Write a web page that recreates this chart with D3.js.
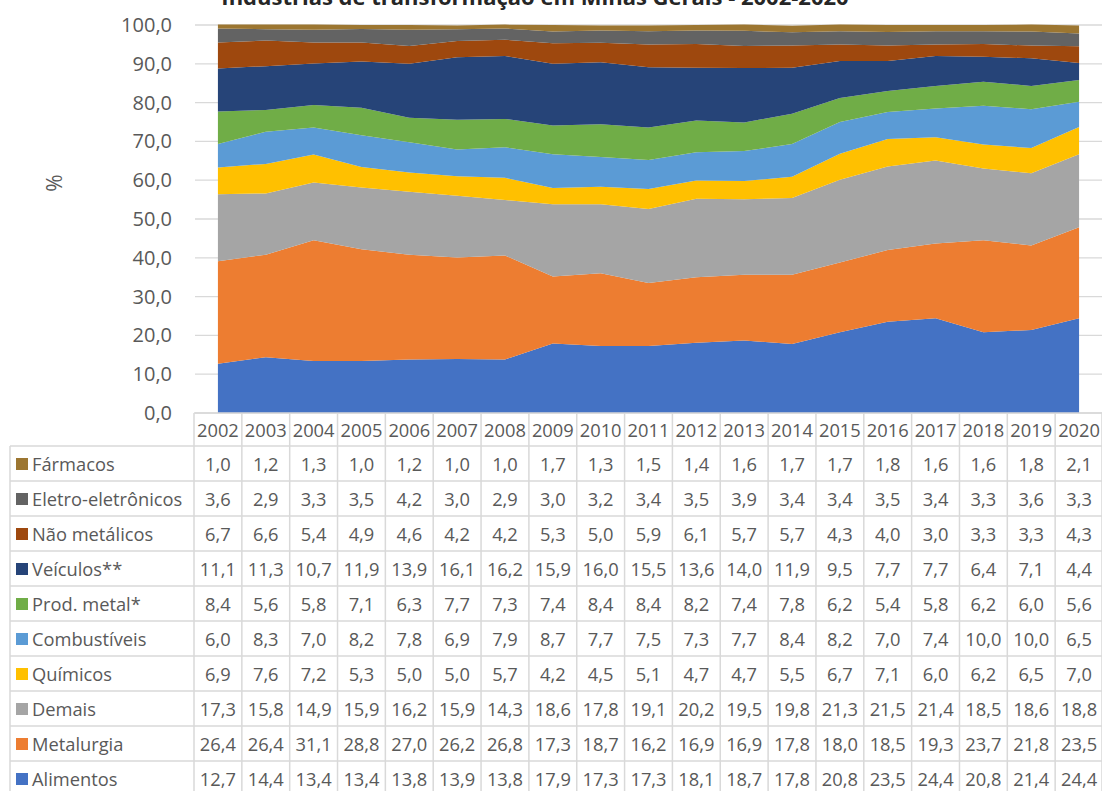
<!DOCTYPE html>
<html>
<head>
<meta charset="utf-8">
<script src="https://cdn.jsdelivr.net/npm/d3@7"></script>
<style>
  html, body { margin: 0; padding: 0; background: #fff; }
  svg { display: block; font-family: "Open Sans", "Noto Sans", sans-serif; }
</style>
</head>
<body>
<svg id="chart" width="1102" height="791"></svg>
<script>
// Participação (%) dos segmentos na indústria de transformação de Minas Gerais
const years = ["2002","2003","2004","2005","2006","2007","2008","2009","2010","2011","2012","2013","2014","2015","2016","2017","2018","2019","2020"];

const alimentos     = [12.7,14.4,13.4,13.4,13.8,13.9,13.8,17.9,17.3,17.3,18.1,18.7,17.8,20.8,23.5,24.4,20.8,21.4,24.4];
const metalurgia    = [26.4,26.4,31.1,28.8,27.0,26.2,26.8,17.3,18.7,16.2,16.9,16.9,17.8,18.0,18.5,19.3,23.7,21.8,23.5];
const demais        = [17.3,15.8,14.9,15.9,16.2,15.9,14.3,18.6,17.8,19.1,20.2,19.5,19.8,21.3,21.5,21.4,18.5,18.6,18.8];
const quimicos      = [6.9,7.6,7.2,5.3,5.0,5.0,5.7,4.2,4.5,5.1,4.7,4.7,5.5,6.7,7.1,6.0,6.2,6.5,7.0];
const combustiveis  = [6.0,8.3,7.0,8.2,7.8,6.9,7.9,8.7,7.7,7.5,7.3,7.7,8.4,8.2,7.0,7.4,10.0,10.0,6.5];
const prodMetal     = [8.4,5.6,5.8,7.1,6.3,7.7,7.3,7.4,8.4,8.4,8.2,7.4,7.8,6.2,5.4,5.8,6.2,6.0,5.6];
const veiculos      = [11.1,11.3,10.7,11.9,13.9,16.1,16.2,15.9,16.0,15.5,13.6,14.0,11.9,9.5,7.7,7.7,6.4,7.1,4.4];
const naoMetalicos  = [6.7,6.6,5.4,4.9,4.6,4.2,4.2,5.3,5.0,5.9,6.1,5.7,5.7,4.3,4.0,3.0,3.3,3.3,4.3];
const eletro        = [3.6,2.9,3.3,3.5,4.2,3.0,2.9,3.0,3.2,3.4,3.5,3.9,3.4,3.4,3.5,3.4,3.3,3.6,3.3];
const farmacos      = [1.0,1.2,1.3,1.0,1.2,1.0,1.0,1.7,1.3,1.5,1.4,1.6,1.7,1.7,1.8,1.6,1.6,1.8,2.1];

const yTicks = [0,10,20,30,40,50,60,70,80,90,100];

// Series in stacking order (bottom to top)
const series = [
  { name: "Alimentos",           values: alimentos,    color: "#4472C4" },
  { name: "Metalurgia",          values: metalurgia,   color: "#ED7D31" },
  { name: "Demais",              values: demais,       color: "#A5A5A5" },
  { name: "Químicos",            values: quimicos,     color: "#FFC000" },
  { name: "Combustíveis",        values: combustiveis, color: "#5B9BD5" },
  { name: "Prod. metal*",        values: prodMetal,    color: "#70AD47" },
  { name: "Veículos**",          values: veiculos,     color: "#264478" },
  { name: "Não metálicos",       values: naoMetalicos, color: "#9E480E" },
  { name: "Eletro-eletrônicos",  values: eletro,       color: "#636363" },
  { name: "Fármacos",            values: farmacos,     color: "#9C7631" }
];

const rows = years.map((yr, i) => {
  const r = { year: yr };
  series.forEach(s => { r[s.name] = s.values[i]; });
  return r;
});

const svg = d3.select("#chart");
const textColor = "#595959";
const gridColor = "#D9D9D9";

// Layout
const tableLeft = 10, colsLeft = 194, colsRight = 1103;
const plotTop = 25, plotBottom = 413;
const headerH = 33, rowH = 35;
const tableFont = 18.3;

const x = d3.scaleBand().domain(years).range([colsLeft, colsRight]).padding(0);
const xc = d => x(d) + x.bandwidth() / 2;
const y = d3.scaleLinear().domain([0, 100]).range([plotBottom, plotTop]);

// Title (sits at the very top edge of the canvas)
svg.append("text")
  .attr("x", 535).attr("y", 5)
  .attr("text-anchor", "middle")
  .attr("font-size", 22).attr("font-weight", "bold")
  .attr("fill", "#262626")
  .text("Indústrias de transformação em Minas Gerais - 2002-2020");

// Gridlines
svg.append("g")
  .selectAll("line").data(yTicks).join("line")
  .attr("x1", colsLeft + 1).attr("x2", 1102)
  .attr("y1", d => y(d)).attr("y2", d => y(d))
  .attr("stroke", gridColor).attr("stroke-width", 1.3);

// Stacked areas
const stack = d3.stack().keys(series.map(s => s.name));
const layers = stack(rows);
const area = d3.area()
  .x(d => xc(d.data.year))
  .y0(d => y(d[0]))
  .y1(d => y(d[1]));

svg.append("g").selectAll("path").data(layers).join("path")
  .attr("d", area)
  .attr("fill", (d, i) => series[i].color);

// Y axis labels
const yAxis = d3.axisLeft(y).tickValues(yTicks)
  .tickFormat(d => d3.format(".1f")(d).replace(".", ","))
  .tickSize(0).tickPadding(0);
const gy = svg.append("g").attr("transform", "translate(172,0)").call(yAxis);
gy.select(".domain").remove();
gy.selectAll("text").attr("font-size", 20).attr("fill", textColor)
  .attr("font-family", "'Open Sans', sans-serif");

svg.append("text")
  .attr("transform", "translate(62,183) rotate(-90)")
  .attr("text-anchor", "middle")
  .attr("font-size", 21).attr("fill", textColor)
  .text("%");

// Data table
const table = svg.append("g");
const tableTop = plotBottom;
const headerBottom = tableTop + headerH;
const tableRows = series.slice().reverse();
const tableBottom = headerBottom + rowH * tableRows.length;

// Horizontal rules
const hLines = [{ y: tableTop, x1: colsLeft }];
for (let i = 0; i <= tableRows.length; i++) hLines.push({ y: headerBottom + i * rowH, x1: tableLeft });
table.selectAll("line.h").data(hLines).join("line")
  .attr("class", "h")
  .attr("x1", d => d.x1).attr("x2", 1102)
  .attr("y1", d => d.y).attr("y2", d => d.y)
  .attr("stroke", gridColor).attr("stroke-width", 1.5);

// Vertical rules
const vXs = years.map(yr => x(yr)).concat([colsRight - 1]);
table.selectAll("line.v").data(vXs).join("line")
  .attr("class", "v")
  .attr("x1", d => d).attr("x2", d => d)
  .attr("y1", tableTop).attr("y2", tableBottom)
  .attr("stroke", gridColor).attr("stroke-width", 1.5);
table.append("line")
  .attr("x1", tableLeft).attr("x2", tableLeft)
  .attr("y1", headerBottom).attr("y2", tableBottom)
  .attr("stroke", gridColor).attr("stroke-width", 1.5);

// Year header
table.selectAll("text.yr").data(years).join("text")
  .attr("class", "yr")
  .attr("x", d => xc(d)).attr("y", tableTop + headerH / 2 + 1)
  .attr("dy", "0.35em")
  .attr("text-anchor", "middle")
  .attr("font-size", tableFont).attr("fill", textColor)
  .text(d => d);

const fmt = v => d3.format(".1f")(v).replace(".", ",");

tableRows.forEach((s, r) => {
  const cy = headerBottom + r * rowH + rowH / 2 + 1;
  table.append("rect")
    .attr("x", 16).attr("y", cy - 6.5)
    .attr("width", 12).attr("height", 12)
    .attr("fill", s.color);
  table.append("text")
    .attr("x", 32).attr("y", cy).attr("dy", "0.35em")
    .attr("font-size", tableFont).attr("fill", textColor)
    .text(s.name);
  table.selectAll(null).data(s.values).join("text")
    .attr("x", (d, i) => xc(years[i])).attr("y", cy).attr("dy", "0.35em")
    .attr("text-anchor", "middle")
    .attr("font-size", tableFont).attr("fill", textColor)
    .text(d => fmt(d));
});
</script>
</body>
</html>
